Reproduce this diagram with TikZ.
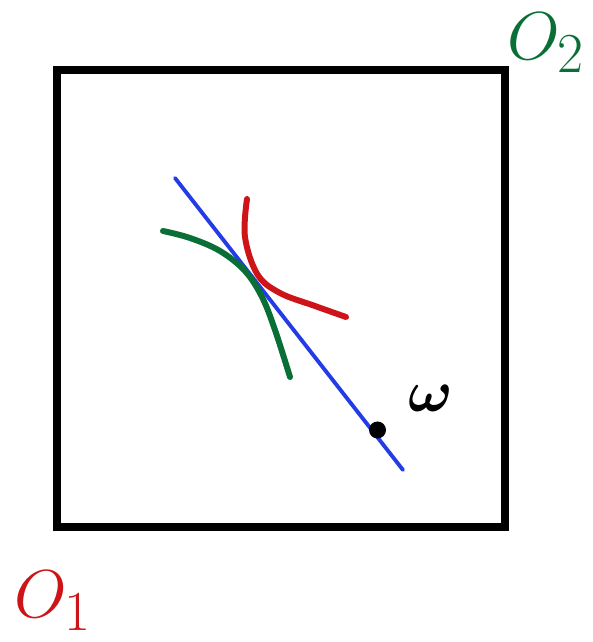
\documentclass[tikz,border=0pt]{standalone}
\usepackage{amsmath,amssymb,amsfonts}
\usepackage{tikz}
\definecolor{penred}{RGB}{205,20,25}
\definecolor{pengreen}{RGB}{10,110,55}
\definecolor{penblue}{RGB}{35,60,230}

\begin{document}
\begin{tikzpicture}[marker/.style={line width=3.4pt, line cap=round, line join=round}]
\useasboundingbox (0,0) rectangle (11.86,12.84);
\draw [line width=4pt, line cap=round] (1.14,2.3) rectangle (10.1,11.44);
\draw [marker, penblue, line width=2.2pt] (3.5,9.28)--(8.06,3.44);
\draw [marker, pengreen] plot[smooth, tension=0.6] coordinates
  {(3.26,8.22) (3.8,8.08) (4.4,7.82) (4.9,7.42) (5.24,6.9) (5.5,6.24) (5.8,5.3)};
\draw [marker, penred] plot[smooth, tension=0.6] coordinates
  {(4.94,8.86) (4.9,8.1) (5.15,7.35) (5.6,6.98) (6.3,6.72) (6.92,6.5)};
\fill (7.55,4.24) circle (0.17);
\node [scale=1.35] (omega) at (8.62,4.88) {\Huge$\boldsymbol{\omega}$};
\node [pengreen, scale=1.55] (o2) at (10.92,11.98) {\Huge$O_2$};
\node [penred, scale=1.55] (o1) at (1.06,0.82) {\Huge$O_1$};
\end{tikzpicture}
\end{document}
